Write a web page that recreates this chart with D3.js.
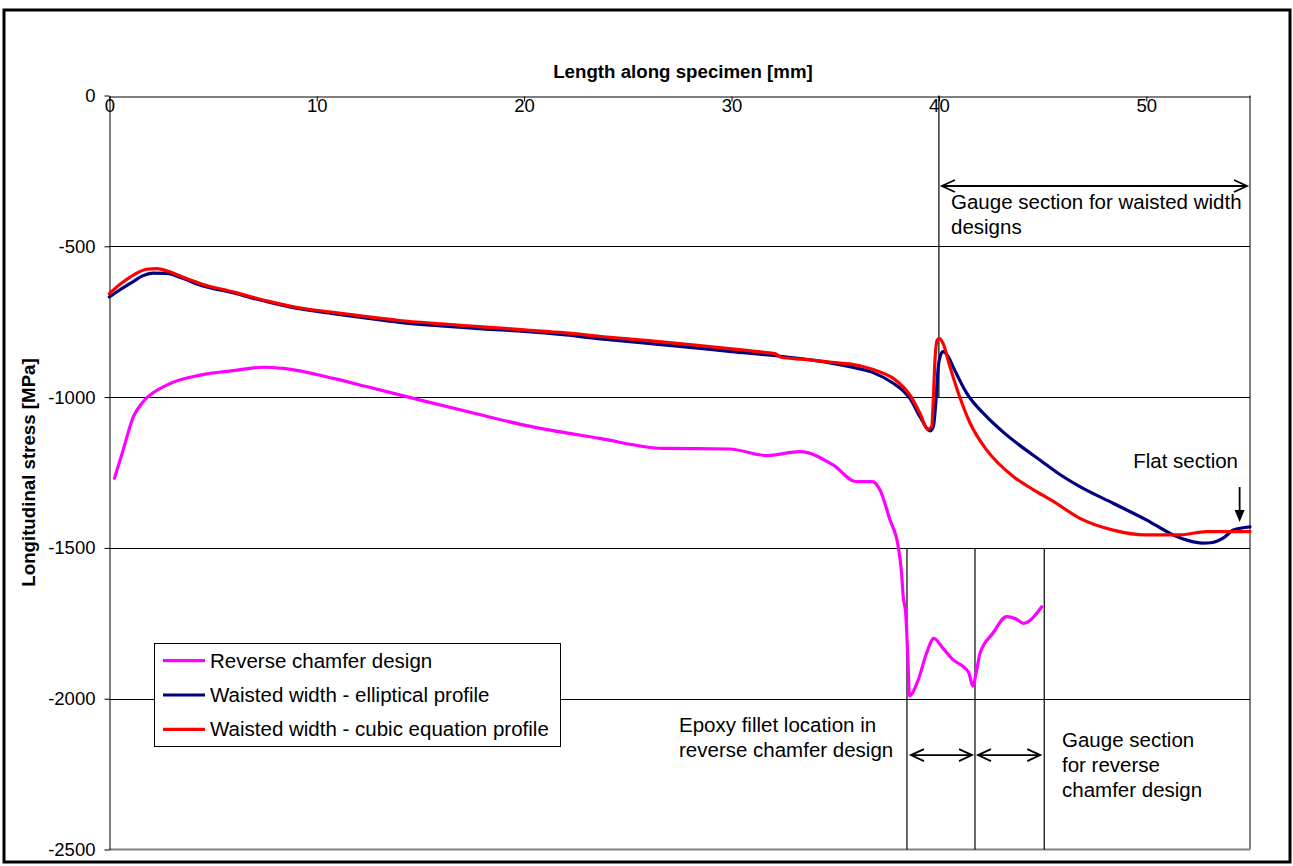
<!DOCTYPE html>
<html>
<head>
<meta charset="utf-8">
<script src="https://cdn.jsdelivr.net/npm/d3@7"></script>
<style>
  body { margin: 0; background: #fff; }
  svg { display: block; font-family: "Liberation Sans", Arial, Helvetica, sans-serif; }
</style>
</head>
<body>
<svg id="chart" width="1293" height="866"></svg>
<script>
// Axis ticks
const xTicks = [0, 10, 20, 30, 40, 50];
const yTicks = [0, -500, -1000, -1500, -2000, -2500];
const gridValues = [-500, -1000, -1500, -2000];

// Series names and colours
const seriesNames = ["Reverse chamfer design", "Waisted width - elliptical profile", "Waisted width - cubic equation profile"];
const seriesColors = ["#FF00FF", "#000080", "#FF0000"];

// Reverse chamfer design: position [mm] and longitudinal stress [MPa]
const chamferX = [0.25, 0.67, 1.16, 1.64, 2.77, 4.37, 5.98, 7.43, 8.39, 10.8, 12.4, 15, 17.5, 20, 23.65, 26.7, 29.9, 31.7, 33.3, 34.9, 36.0, 36.8, 37.16, 37.64, 38.04, 38.2, 38.28, 38.4, 38.5, 38.58, 39.0, 39.4, 39.76, 40.2, 40.7, 41.18, 41.45, 41.63, 41.82, 41.98, 42.6, 43.27, 43.7, 44.07, 44.96];
const chamferY = [-1269, -1175, -1065, -1015, -960, -927, -912, -901, -905, -938, -965, -1010, -1052, -1093, -1137, -1170, -1172, -1194, -1181, -1225, -1280, -1280, -1308, -1407, -1496, -1584, -1662, -1717, -1860, -1990, -1938, -1850, -1800, -1833, -1872, -1894, -1915, -1958, -1905, -1850, -1783, -1728, -1735, -1750, -1695];

// Waisted width, elliptical profile
const ellipticalX = [0, 0.5, 1.15, 1.6, 2.1, 2.77, 3.5, 4.37, 6, 7.6, 9, 10.8, 12.5, 14, 16, 18, 20, 22, 23.7, 26, 28, 30, 32, 34, 35.7, 36.8, 37.8, 38.28, 38.6, 39.09, 39.57, 39.73, 39.86, 39.97, 40.08, 40.2, 40.45, 40.68, 41.34, 42.3, 43.1, 43.9, 44.9, 45.8, 46.8, 48.4, 50.0, 51.3, 52.0, 52.7, 53.2, 53.7, 54.2, 55];
const ellipticalY = [-668, -645, -617, -598, -589, -590, -605, -628, -655, -684, -705, -723, -739, -752, -764, -774, -782, -794, -807, -822, -835, -849, -862, -878, -899, -918, -954, -979, -1004, -1065, -1112, -1098, -1010, -899, -861, -849, -866, -899, -987, -1065, -1116, -1160, -1210, -1255, -1297, -1352, -1407, -1457, -1475, -1484, -1482, -1468, -1441, -1430];

// Waisted width, cubic equation profile
const cubicX = [0, 0.6, 1.2, 1.8, 2.3, 2.8, 3.5, 4.37, 6, 7.6, 9, 10.8, 12.5, 14, 16, 18, 20, 22, 23.7, 26, 28, 30, 31.5, 32.1, 32.4, 33.5, 35, 35.7, 36.8, 37.8, 38.28, 38.6, 39.09, 39.46, 39.65, 39.73, 39.81, 39.92, 40.02, 40.2, 40.53, 41.0, 41.5, 42.3, 43.6, 44.5, 45.5, 46.8, 48.4, 50.0, 51.6, 52.9, 55];
const cubicY = [-657, -622, -594, -576, -574, -582, -601, -623, -652, -681, -702, -719, -734, -746, -757, -767, -777, -787, -799, -813, -826, -840, -851, -856, -868, -875, -886, -890, -908, -938, -966, -993, -1054, -1107, -1098, -1010, -877, -811, -805, -822, -899, -999, -1086, -1175, -1264, -1305, -1345, -1402, -1441, -1457, -1457, -1446, -1446];

// Annotation anchors in data units
const waistedGauge = { x0: 40, x1: 55, y: -300 };
const markerX = 40;
const chamferBounds = [38.46, 41.74, 45.08];
const chamferArrowY = -2187;
const flatArrow = { x: 54.5, y0: -1298, y1: -1414 };

const svg = d3.select("#chart");
const plot = { left: 109.3, right: 1250, top: 95.5, bottom: 849.5 };

const x = d3.scaleLinear().domain([0, 55]).range([plot.left, plot.right]);
const y = d3.scaleLinear().domain([0, -2500]).range([plot.top, plot.bottom]);

// Outer frame
svg.append("rect").attr("x", 4).attr("y", 10).attr("width", 1286).attr("height", 852)
  .attr("fill", "#fff").attr("stroke", "#000").attr("stroke-width", 3);

// Plot area frame (right and bottom)
svg.append("line").attr("x1", x(55)).attr("x2", x(55)).attr("y1", y(0)).attr("y2", y(-2500))
  .attr("stroke", "#808080").attr("stroke-width", 2);
svg.append("line").attr("x1", x(0)).attr("x2", x(55)).attr("y1", y(-2500)).attr("y2", y(-2500))
  .attr("stroke", "#808080").attr("stroke-width", 2);

// Horizontal gridlines
svg.append("g").selectAll("line").data(gridValues).join("line")
  .attr("x1", x(0)).attr("x2", x(55))
  .attr("y1", d => Math.round(y(d)) + 0.5).attr("y2", d => Math.round(y(d)) + 0.5)
  .attr("stroke", "#000").attr("stroke-width", 1);

// X axis along the top (value 0), ticks pointing into the plot
const xAxis = d3.axisBottom(x).tickValues(xTicks).tickFormat(d => String(d)).tickSize(5).tickSizeOuter(0);
const gx = svg.append("g").attr("transform", `translate(0,${Math.round(y(0)) + 0.5})`).call(xAxis);
gx.select(".domain").attr("stroke", "#000");
gx.selectAll(".tick line").attr("stroke", "#000");
gx.selectAll(".tick text").attr("y", 2).attr("font-size", 18.5).attr("fill", "#000")
  .attr("font-family", "'Liberation Sans', Arial, sans-serif");

// Y axis
const yAxis = d3.axisLeft(y).tickValues(yTicks).tickFormat(d => String(d)).tickSize(5).tickSizeOuter(0).tickPadding(9);
const gy = svg.append("g").attr("transform", `translate(${Math.round(x(0)) + 0.5},0)`).call(yAxis);
gy.select(".domain").attr("stroke", "#000");
gy.selectAll(".tick line").attr("stroke", "#000");
gy.selectAll(".tick text").attr("font-size", 18.5).attr("fill", "#000")
  .attr("font-family", "'Liberation Sans', Arial, sans-serif");

// Axis titles
svg.append("text").attr("x", 683).attr("y", 78).attr("text-anchor", "middle")
  .attr("font-size", 18.7).attr("font-weight", "bold").text("Length along specimen [mm]");
svg.append("text").attr("transform", `translate(35,${(plot.top + plot.bottom) / 2}) rotate(-90)`)
  .attr("text-anchor", "middle").attr("font-size", 18.7).attr("font-weight", "bold")
  .text("Longitudinal stress [MPa]");

// Annotation lines
const ann = svg.append("g").attr("stroke", "#000").attr("stroke-width", 1.2).attr("fill", "none");
ann.append("line").attr("x1", x(markerX)).attr("x2", x(markerX)).attr("y1", y(0)).attr("y2", y(-1003));
chamferBounds.forEach(v => {
  ann.append("line").attr("x1", x(v)).attr("x2", x(v)).attr("y1", y(-1500)).attr("y2", y(-2500));
});

function doubleArrow(g, xa, xb, yy) {
  const L = 13, h = 6;
  g.append("line").attr("x1", xa).attr("x2", xb).attr("y1", yy).attr("y2", yy);
  g.append("path").attr("d", `M${xa + L},${yy - h}L${xa},${yy}L${xa + L},${yy + h}`);
  g.append("path").attr("d", `M${xb - L},${yy - h}L${xb},${yy}L${xb - L},${yy + h}`);
}
const arrows = svg.append("g").attr("stroke", "#000").attr("stroke-width", 1.8).attr("fill", "none");
doubleArrow(arrows, x(waistedGauge.x0) + 3, x(waistedGauge.x1) - 3, y(waistedGauge.y));
doubleArrow(arrows, x(chamferBounds[0]) + 4, x(chamferBounds[1]) - 3, y(chamferArrowY));
doubleArrow(arrows, x(chamferBounds[1]) + 3, x(chamferBounds[2]) - 4, y(chamferArrowY));

// Flat section arrow
const fx = x(flatArrow.x);
svg.append("line").attr("x1", fx).attr("x2", fx).attr("y1", y(flatArrow.y0)).attr("y2", y(flatArrow.y1) - 10)
  .attr("stroke", "#000").attr("stroke-width", 1.8);
svg.append("path")
  .attr("d", `M${fx - 5},${y(flatArrow.y1) - 12}L${fx + 5},${y(flatArrow.y1) - 12}L${fx},${y(flatArrow.y1)}Z`)
  .attr("fill", "#000");

// Data series
const series = [
  { name: seriesNames[0], color: seriesColors[0], xs: chamferX, ys: chamferY },
  { name: seriesNames[1], color: seriesColors[1], xs: ellipticalX, ys: ellipticalY },
  { name: seriesNames[2], color: seriesColors[2], xs: cubicX, ys: cubicY }
];
const line = d3.line().x(d => x(d[0])).y(d => y(d[1])).curve(d3.curveMonotoneX);
svg.append("g").selectAll("path").data(series).join("path")
  .attr("d", s => line(s.xs.map((v, i) => [v, s.ys[i]])))
  .attr("fill", "none").attr("stroke", s => s.color).attr("stroke-width", 3.2)
  .attr("stroke-linejoin", "round").attr("stroke-linecap", "round");

// Annotation texts
const textG = svg.append("g").attr("font-size", 20.5).attr("fill", "#000");
function block(xx, yy, lines, anchor) {
  const t = textG.append("text").attr("x", xx).attr("y", yy).attr("text-anchor", anchor || "start");
  lines.forEach((s, i) => t.append("tspan").attr("x", xx).attr("dy", i === 0 ? 0 : 25).text(s));
}
block(951, 208.5, ["Gauge section for waisted width", "designs"]);
block(1238, 468, ["Flat section"], "end");
block(679, 732, ["Epoxy fillet location in", "reverse chamfer design"]);
block(1062, 747, ["Gauge section", "for reverse", "chamfer design"]);

// Legend
const lg = svg.append("g").attr("transform", "translate(154.5,643.5)");
lg.append("rect").attr("width", 406).attr("height", 103).attr("fill", "#fff").attr("stroke", "#000").attr("stroke-width", 1);
const rows = lg.selectAll("g").data(series).join("g").attr("transform", (d, i) => `translate(0,${17.2 + i * 34.3})`);
rows.append("line").attr("x1", 8.5).attr("x2", 50.5).attr("stroke", d => d.color).attr("stroke-width", 3.2);
rows.append("text").attr("x", 55.5).attr("dy", "0.35em").attr("font-size", 20.5).text(d => d.name);
</script>
</body>
</html>
